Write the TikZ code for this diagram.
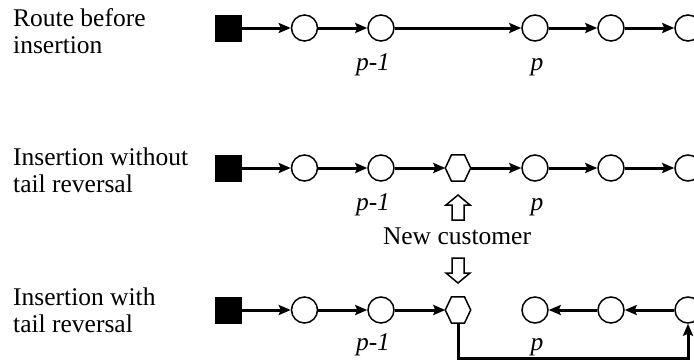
\documentclass[tikz,border=0pt]{standalone}
\usepackage{fontspec}
\setmainfont{Liberation Serif}
\usetikzlibrary{arrows.meta,shapes.geometric}
\begin{document}
\begin{tikzpicture}[x=1pt,y=-1pt,
  font=\fontsize{25.5}{27}\selectfont,
  cust/.style={circle,draw,line width=1.5pt,minimum size=26pt,inner sep=0pt,fill=white},
  depot/.style={rectangle,fill=black,draw=black,minimum size=26pt,inner sep=0pt},
  newc/.style={rectangle,minimum width=25pt,minimum height=26pt,inner sep=0pt},
  hexline/.style={draw,line width=1.5pt,fill=white},
  link/.style={line width=3pt,-{Stealth[length=12pt,width=10pt,inset=2pt]}},
  lbl/.style={font=\fontsize{25.5}{27}\selectfont\itshape,anchor=base},
  side/.style={align=left,anchor=north west,inner sep=0pt},
  blockarrow/.style={draw,line width=1.5pt,fill=white}
]
\useasboundingbox (0,0) rectangle (694,364);
\clip (0,0) rectangle (694,364);
% left labels
\node[side] (t1) at (13,8) {Route before\\insertion};
\node[side] (t2) at (13,148) {Insertion without\\tail reversal};
\node[side] (t3) at (13,288) {Insertion with\\tail reversal};
% row 1
\node[depot] (a0) at (228,28) {};
\node[cust] (a1) at (304.5,28) {};
\node[cust] (a2) at (381,28) {};
\node[cust] (a3) at (535,28) {};
\node[cust] (a4) at (611,28) {};
\node[cust] (a5) at (688,28) {};
\draw[link] (a0) -- (a1);
\draw[link] (a1) -- (a2);
\draw[link] (a2) -- (a3);
\draw[link] (a3) -- (a4);
\draw[link] (a4) -- (a5);
\node[lbl] (l1a) at (373,70) {p-1};
\node[lbl] (l1b) at (537,70) {p};
% row 2
\node[depot] (b0) at (228,168) {};
\node[cust] (b1) at (304.5,168) {};
\node[cust] (b2) at (381,168) {};
\node[newc] (bn) at (458,168) {};
\draw[hexline] (bn.west) -- ([xshift=-6.5pt]bn.north) -- ([xshift=6.5pt]bn.north) -- (bn.east) -- ([xshift=6.5pt]bn.south) -- ([xshift=-6.5pt]bn.south) -- cycle;
\node[cust] (b3) at (535,168) {};
\node[cust] (b4) at (611,168) {};
\node[cust] (b5) at (688,168) {};
\draw[link] (b0) -- (b1);
\draw[link] (b1) -- (b2);
\draw[link] (b2) -- (bn);
\draw[link] (bn) -- (b3);
\draw[link] (b3) -- (b4);
\draw[link] (b4) -- (b5);
\node[lbl] (l2a) at (373,210) {p-1};
\node[lbl] (l2b) at (537,210) {p};
% new customer
\draw[blockarrow] (458,195) -- (470,205) -- (464,205) -- (464,220) -- (452,220) -- (452,205) -- (446,205) -- cycle;
\node[anchor=base] (nc) at (457,244) {New customer};
\draw[blockarrow] (458,283) -- (470,273) -- (464,273) -- (464,258) -- (452,258) -- (452,273) -- (446,273) -- cycle;
% row 3
\node[depot] (c0) at (228,310) {};
\node[cust] (c1) at (304.5,310) {};
\node[cust] (c2) at (381,310) {};
\node[newc] (cn) at (458,310) {};
\draw[hexline] (cn.west) -- ([xshift=-6.5pt]cn.north) -- ([xshift=6.5pt]cn.north) -- (cn.east) -- ([xshift=6.5pt]cn.south) -- ([xshift=-6.5pt]cn.south) -- cycle;
\node[cust] (c3) at (535,310) {};
\node[cust] (c4) at (611,310) {};
\node[cust] (c5) at (688,310) {};
\draw[link] (c0) -- (c1);
\draw[link] (c1) -- (c2);
\draw[link] (c2) -- (cn);
\draw[link] (c5) -- (c4);
\draw[link] (c4) -- (c3);
\coordinate (cb) at (458,358);
\draw[link] (cn.south) -- (cb) -| (c5.south);
\node[lbl] (l3a) at (373,350) {p-1};
\node[lbl] (l3b) at (537,350) {p};
\end{tikzpicture}
\end{document}
